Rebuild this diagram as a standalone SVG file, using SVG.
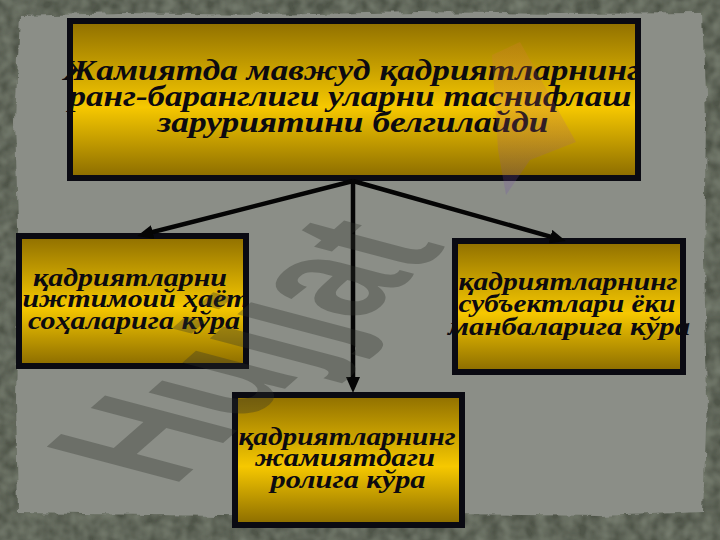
<svg xmlns="http://www.w3.org/2000/svg" width="720" height="540" viewBox="0 0 720 540">
  <defs>
    <linearGradient id="gold" x1="0" y1="0" x2="0" y2="1">
      <stop offset="0" stop-color="#8f6f00"/>
      <stop offset="0.55" stop-color="#f6c800"/>
      <stop offset="1" stop-color="#8a6b00"/>
    </linearGradient>
    <linearGradient id="zgrad" x1="0" y1="0" x2="0" y2="1">
      <stop offset="0" stop-color="#e07a3a"/>
      <stop offset="0.6" stop-color="#b0607a"/>
      <stop offset="1" stop-color="#6a4ab0"/>
    </linearGradient>
    <filter id="rough" x="-5%" y="-5%" width="110%" height="110%">
      <feTurbulence type="fractalNoise" baseFrequency="0.06" numOctaves="3" seed="4" result="n"/>
      <feDisplacementMap in="SourceGraphic" in2="n" scale="8" xChannelSelector="R" yChannelSelector="G"/>
    </filter>
    <filter id="grain" x="0" y="0" width="100%" height="100%">
      <feTurbulence type="fractalNoise" baseFrequency="0.08" numOctaves="2" seed="7" result="n"/>
      <feColorMatrix in="n" type="matrix" values="0 0 0 0 0.25  0 0 0 0 0.28  0 0 0 0 0.22  0 0 0 0.9 -0.2" result="c"/>
      <feComposite in="c" in2="SourceGraphic" operator="in" result="t"/>
      <feMerge><feMergeNode in="SourceGraphic"/><feMergeNode in="t"/></feMerge>
    </filter>
    <marker id="arr" viewBox="0 0 16 14" refX="10" refY="7" markerWidth="16" markerHeight="14" orient="auto" markerUnits="userSpaceOnUse">
      <path d="M0,0 L16,7 L0,14 z" fill="#050505"/>
    </marker>
    <style>
      .box { fill: url(#gold); stroke: #0a0a12; stroke-width: 6; }
      .t { font-family: "Liberation Serif", "DejaVu Serif", serif; font-weight: bold; font-style: italic; fill: #0c0a10; text-anchor: middle; }
      .big { font-size: 30px; }
      .small { font-size: 26px; }
      .conn { stroke: #050505; stroke-width: 4.5; fill: none; marker-end: url(#arr); }
      .wm { font-family: "Liberation Sans", Arial, sans-serif; font-weight: bold; fill: #2e322c; fill-opacity: 0.33; }
    </style>
  </defs>

  <!-- background -->
  <rect x="0" y="0" width="720" height="540" fill="#4f5549" filter="url(#grain)"/>
  <path d="M20,16 L120,13 L260,15 L420,12 L560,14 L702,13 L706,120 L704,260 L707,400 L703,512 L600,516 L450,514 L300,517 L150,515 L18,513 L16,400 L19,260 L15,120 Z" fill="#8b8e87" filter="url(#rough)"/>

  <!-- top node -->
  <g id="node-top">
    <rect class="box" x="70" y="21" width="568" height="157"/>
    <text class="t big" x="352" y="80" textLength="576" lengthAdjust="spacingAndGlyphs">Жамиятда мавжуд қадриятларнинг</text>
    <text class="t big" x="350" y="106" textLength="563" lengthAdjust="spacingAndGlyphs">ранг-баранглиги уларни таснифлаш</text>
    <text class="t big" x="353" y="132" textLength="391" lengthAdjust="spacingAndGlyphs">заруриятини белгилайди</text>
  </g>

  <!-- left node -->
  <g id="node-left">
    <rect class="box" x="19" y="236" width="227" height="130"/>
    <text class="t small" x="130" y="286" textLength="194" lengthAdjust="spacingAndGlyphs">қадриятларни</text>
    <text class="t small" x="136" y="307" textLength="227" lengthAdjust="spacingAndGlyphs">ижтимоий ҳаёт</text>
    <text class="t small" x="134" y="329" textLength="212" lengthAdjust="spacingAndGlyphs">соҳаларига кўра</text>
  </g>

  <!-- right node -->
  <g id="node-right">
    <rect class="box" x="455" y="241" width="228" height="131"/>
    <text class="t small" x="568" y="290" textLength="219" lengthAdjust="spacingAndGlyphs">қадриятларнинг</text>
    <text class="t small" x="567" y="312" textLength="217" lengthAdjust="spacingAndGlyphs">субъектлари ёки</text>
    <text class="t small" x="569" y="335" textLength="242" lengthAdjust="spacingAndGlyphs">манбаларига кўра</text>
  </g>

  <!-- bottom node -->
  <g id="node-bottom">
    <rect class="box" x="235" y="395" width="227" height="130"/>
    <text class="t small" x="347" y="445" textLength="217" lengthAdjust="spacingAndGlyphs">қадриятларнинг</text>
    <text class="t small" x="345" y="466" textLength="180" lengthAdjust="spacingAndGlyphs">жамиятдаги</text>
    <text class="t small" x="348" y="488" textLength="155" lengthAdjust="spacingAndGlyphs">ролига кўра</text>
  </g>

  <!-- connectors -->
  <g id="connectors">
    <line class="conn" x1="353" y1="181" x2="143" y2="234.5"/>
    <line class="conn" x1="353" y1="181" x2="560" y2="239.3"/>
    <line class="conn" x1="353" y1="181" x2="353" y2="387"/>
  </g>

  <!-- watermark -->
  <g id="watermark">
    <text class="wm" font-size="100" transform="matrix(0.99,-0.871,1.924,0.509,172.6,487.6)">Hujjat</text>
    <path d="M492,55 L520,42 L576,142 L530,160 L506,195 L498,150 Z" fill="url(#zgrad)" opacity="0.22"/>
  </g>
</svg>
